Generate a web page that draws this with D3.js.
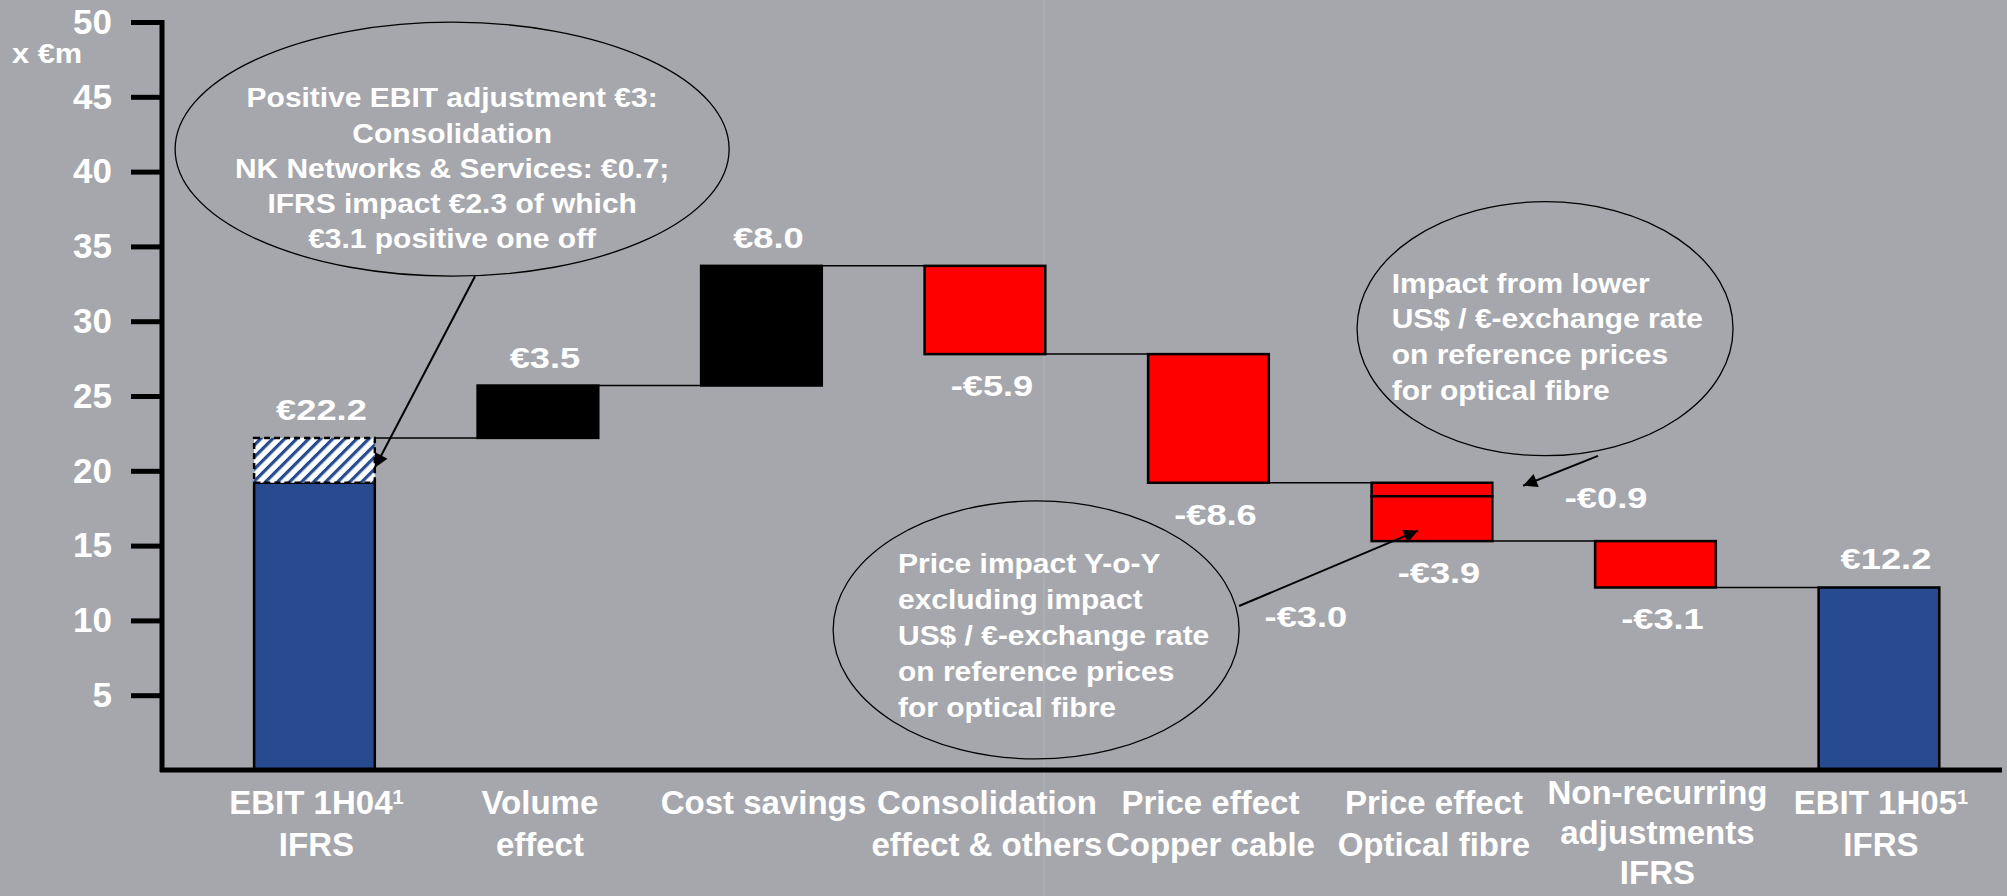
<!DOCTYPE html>
<html>
<head>
<meta charset="utf-8">
<script src="https://cdn.jsdelivr.net/npm/d3@7"></script>
<style>
  html, body { margin: 0; padding: 0; background: #A6A7AC; }
  svg { display: block; }
  text { font-family: "Liberation Sans", Arial, Helvetica, sans-serif; font-weight: bold; fill: #fff; }
</style>
</head>
<body>
<svg id="chart" width="2007" height="896"></svg>
<script>
// ---------------- data ----------------
const categories = ["EBIT 1H04", "Volume effect", "Cost savings", "Consolidation effect & others",
  "Price effect Copper cable", "Price effect Optical fibre", "Non-recurring adjustments IFRS", "EBIT 1H05"];
const categoryLines = [["EBIT 1H04¹", "IFRS"], ["Volume", "effect"], ["Cost savings"],
  ["Consolidation", "effect & others"], ["Price effect", "Copper cable"], ["Price effect", "Optical fibre"],
  ["Non-recurring", "adjustments", "IFRS"], ["EBIT 1H05¹", "IFRS"]];
const barTypes = ["total", "delta", "delta", "delta", "delta", "delta", "delta", "total"];
const values = [22.2, 3.5, 8.0, -5.9, -8.6, -3.9, -3.1, 12.2];
const valueLabels = ["€22.2", "€3.5", "€8.0", "-€5.9", "-€8.6", "-€3.9", "-€3.1", "€12.2"];
const ifrsAdjustment = 3.0;            // hatched part on top of EBIT 1H04
const opticalSplit = [-0.9, -3.0];     // exchange-rate part, price part
const opticalSplitLabels = ["-€0.9", "-€3.0"];
const yTicks = [5, 10, 15, 20, 25, 30, 35, 40, 45, 50];
const yUnit = "x €m";
const note1 = ["Positive EBIT adjustment €3:", "Consolidation", "NK Networks & Services: €0.7;",
  "IFRS impact €2.3 of which", "€3.1 positive one off"];
const note2 = ["Price impact Y-o-Y", "excluding impact", "US$ / €-exchange rate", "on reference prices", "for optical fibre"];
const note3 = ["Impact from lower", "US$ / €-exchange rate", "on reference prices", "for optical fibre"];

// ---------------- layout ----------------
const W = 2007, H = 896;
const svg = d3.select("#chart");
const BLUE = "#284B8F", RED = "#FF0000", BLACK = "#000000";

const x = d3.scaleBand().domain(categories).range([202.7, 1990.7]).paddingInner(0.46).paddingOuter(0.23);
const y = d3.scaleLinear().domain([0, 50]).range([770, 22]);
const bw = x.bandwidth();
const xc = i => x(categories[i]) + bw / 2;
const ax = t => xc(0) + t * x.step();   // continuous category index -> px

// waterfall computation
let level = 0;
const bars = values.map((v, i) => {
  let start, end;
  if (barTypes[i] === "total") { start = 0; end = v; }
  else { start = level; end = level + v; }
  level = end;
  return { i, v, start, end, type: barTypes[i] };
});

// hatch pattern
const defs = svg.append("defs");
const pat = defs.append("pattern").attr("id", "hatch").attr("patternUnits", "userSpaceOnUse")
  .attr("width", 8.5).attr("height", 8.5).attr("patternTransform", "rotate(45)");
pat.append("rect").attr("width", 8.5).attr("height", 8.5).attr("fill", "#fff");
pat.append("rect").attr("width", 3.2).attr("height", 8.5).attr("fill", BLUE);
defs.append("marker").attr("id", "arrow").attr("viewBox", "0 0 10 10").attr("refX", 10).attr("refY", 5)
  .attr("markerWidth", 8).attr("markerHeight", 7).attr("markerUnits", "strokeWidth").attr("orient", "auto")
  .append("path").attr("d", "M0,0 L10,5 L0,10 z").attr("fill", BLACK);

// background
svg.append("rect").attr("width", W).attr("height", H).attr("fill", "#A6A7AC");
svg.append("line").attr("x1", 1044).attr("x2", 1044).attr("y1", 0).attr("y2", H)
  .attr("stroke", "#B4B5B9").attr("stroke-width", 1);

// connectors
const gConn = svg.append("g");
bars.slice(0, -1).forEach(b => {
  gConn.append("line")
    .attr("x1", x(categories[b.i]) + bw).attr("x2", x(categories[b.i + 1]))
    .attr("y1", y(b.end)).attr("y2", y(b.end))
    .attr("stroke", BLACK).attr("stroke-width", 1.5);
});

// bars
const gBars = svg.append("g").attr("stroke", BLACK).attr("stroke-width", 2.5);
function seg(i, a, b, fill, extra) {
  const r = gBars.append("rect")
    .attr("x", x(categories[i])).attr("width", bw)
    .attr("y", y(Math.max(a, b))).attr("height", Math.abs(y(a) - y(b)))
    .attr("fill", fill);
  if (extra) extra(r);
  return r;
}
bars.forEach(b => {
  if (b.i === 0) {
    seg(0, 0, b.end - ifrsAdjustment, BLUE);
    seg(0, b.end - ifrsAdjustment, b.end, "url(#hatch)", r => r.attr("stroke-dasharray", "6,4"));
  } else if (categories[b.i] === "Price effect Optical fibre") {
    let lv = b.start;
    opticalSplit.forEach(d => { seg(b.i, lv, lv + d, RED); lv += d; });
  } else {
    const fill = b.type === "total" ? BLUE : (b.v >= 0 ? BLACK : RED);
    seg(b.i, b.start, b.end, fill);
  }
});

// text helper (horizontal stretch like the source rendering)
function txt(g, px, py, str, size, sx, anchor) {
  return g.append("text").attr("transform", `translate(${px},${py}) scale(${sx},1)`)
    .attr("text-anchor", anchor || "middle").attr("font-size", size).text(str);
}

// value labels
const gVal = svg.append("g");
bars.forEach(b => {
  const top = Math.max(b.start, b.end), bot = Math.min(b.start, b.end);
  const py = (b.type === "total" || b.v >= 0) ? y(top) - 18 : y(bot) + 42;
  txt(gVal, xc(b.i) + 7, py, valueLabels[b.i], 29, 1.25);
});
// split labels for optical fibre
txt(gVal, ax(5.779), y(18.2) + 10, opticalSplitLabels[0], 29, 1.25);
txt(gVal, ax(4.436), y(10.2) + 10, opticalSplitLabels[1], 29, 1.25);

// axes
const yAxis = d3.axisLeft(y).tickValues(yTicks).tickSize(31).tickSizeOuter(0).tickPadding(19).tickFormat(d3.format("d"));
const gy = svg.append("g").attr("transform", "translate(162,0)").call(yAxis);
gy.select(".domain").attr("stroke", BLACK).attr("stroke-width", 5).attr("d", `M0,${y(50) - 2}V${y(0) + 2}`);
gy.selectAll(".tick line").attr("stroke", BLACK).attr("stroke-width", 5);
gy.selectAll(".tick text").attr("fill", "#fff").attr("font-size", 35)
  .attr("font-family", "'Liberation Sans', Arial, sans-serif").attr("font-weight", "bold");

svg.append("line").attr("x1", 160).attr("x2", 2002).attr("y1", y(0)).attr("y2", y(0))
  .attr("stroke", BLACK).attr("stroke-width", 5);

txt(svg, 12, 63, yUnit, 28, 1.1, "start");

// category labels
const gCat = svg.append("g");
categoryLines.forEach((lines, i) => {
  const three = lines.length > 2;
  const base = y(0) + 44 - (three ? 10 : 0);
  const lh = three ? 40 : 42;
  lines.forEach((ln, k) => {
    const t = gCat.append("text").attr("x", xc(i) + 2).attr("y", base + k * lh)
      .attr("text-anchor", "middle").attr("font-size", 33);
    if (ln.endsWith("¹")) {
      t.append("tspan").text(ln.slice(0, -1));
      t.append("tspan").attr("font-size", 20).attr("dy", -10).text("1");
    } else t.text(ln);
  });
});

// annotations
const gAnn = svg.append("g");
function ellipse(cx, cy, rx, ry) {
  gAnn.append("ellipse").attr("cx", cx).attr("cy", cy).attr("rx", rx).attr("ry", ry)
    .attr("fill", "none").attr("stroke", BLACK).attr("stroke-width", 1.3);
}
function arrow(x1, y1, x2, y2) {
  gAnn.append("line").attr("x1", x1).attr("y1", y1).attr("x2", x2).attr("y2", y2)
    .attr("stroke", BLACK).attr("stroke-width", 2).attr("marker-end", "url(#arrow)");
}
// note 1
ellipse(ax(0.616), y(41.5), 277, 127);
note1.forEach((ln, k) => txt(gAnn, ax(0.616), y(44.3) + k * 35.3, ln, 28, 1.07, "middle"));
arrow(ax(0.7186), y(33.0), x(categories[0]) + bw, y(20.2));
// note 2
ellipse(ax(3.229), y(9.36), 203, 129);
note2.forEach((ln, k) => txt(gAnn, ax(2.611), y(13.2) + k * 36, ln, 28, 1.07, "start"));
arrow(ax(4.137), y(10.96), ax(4.937), y(16.0));
// note 3
ellipse(ax(5.506), y(29.5), 188, 127);
note3.forEach((ln, k) => txt(gAnn, ax(4.82), y(31.9) + k * 35.7, ln, 28, 1.07, "start"));
arrow(ax(5.743), y(21.0), ax(5.408), y(19.0));
</script>
</body>
</html>
